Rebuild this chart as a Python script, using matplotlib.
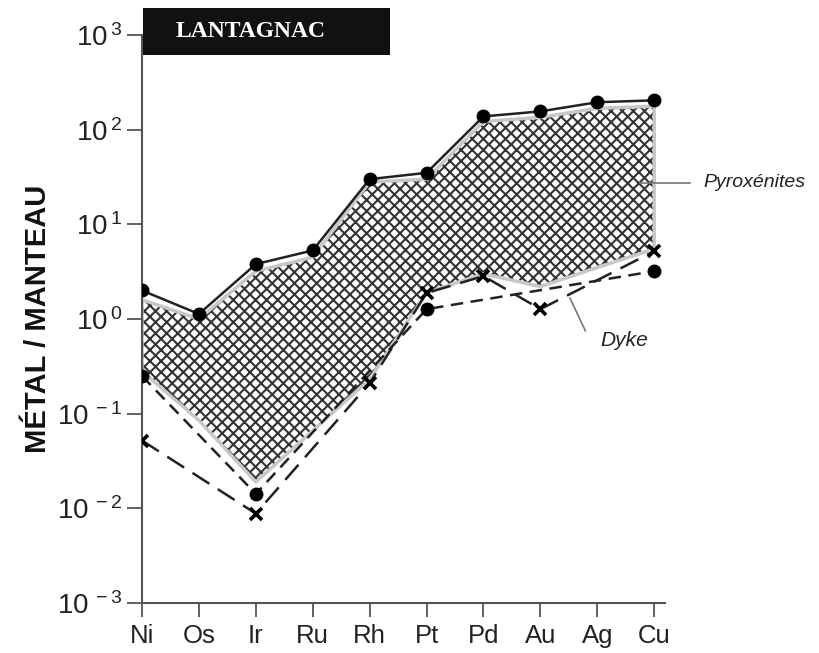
import numpy as np
import matplotlib
matplotlib.use("Agg")
import matplotlib.pyplot as plt
from matplotlib.patches import Rectangle

plt.rcParams['font.family'] = ['Liberation Sans', 'DejaVu Sans']
plt.rcParams['mathtext.fontset'] = 'custom'
plt.rcParams['mathtext.rm'] = 'Liberation Sans'
plt.rcParams['hatch.linewidth'] = 1.5

# elements on the x axis
elements = ['Ni', 'Os', 'Ir', 'Ru', 'Rh', 'Pt', 'Pd', 'Au', 'Ag', 'Cu']

# pyroxenites, upper curve (solid, dots)
pyro_top = [2.0, 1.13, 3.8, 5.3, 30.0, 35.0, 138, 156, 195, 204]

# hatched field of the pyroxenites
field_hi = [1.6, 1.0, 3.2, 4.5, 28, 30, 122, 135, 168, 177]
field_lo = [0.28, 0.085, 0.019, 0.066, 0.23, 1.9, 3.0, 2.2, 3.5, 5.5]

# lower pyroxenite (dots, dashed)
dot_el = ['Ni', 'Ir', 'Pt', 'Cu']
dot_val = [0.25, 0.0142, 1.27, 3.2]

# dyke (x, long dashes)
dyke_el = ['Ni', 'Ir', 'Rh', 'Pt', 'Pd', 'Au', 'Cu']
dyke_val = [0.052, 0.0088, 0.21, 1.88, 2.84, 1.27, 5.2]

yticks = [1e-3, 1e-2, 1e-1, 1e0, 1e1, 1e2, 1e3]
ylabels = [r'$\mathregular{10^{\,-3}}$', r'$\mathregular{10^{\,-2}}$', r'$\mathregular{10^{\,-1}}$',
           r'$\mathregular{10^{\,0}}$', r'$\mathregular{10^{\,1}}$', r'$\mathregular{10^{\,2}}$',
           r'$\mathregular{10^{\,3}}$']

fig = plt.figure(figsize=(8.19, 6.53), dpi=100)
ax = fig.add_axes([0.1734, 0.0766, 0.6386, 0.8698])

xs = np.arange(len(elements))
pos = {e: i for i, e in enumerate(elements)}

# hatch first, then a soft grey rim on top
ax.fill_between(xs, field_lo, field_hi, facecolor='white', edgecolor='#333333',
                hatch='xxx', linewidth=0, zorder=1)
ax.fill_between(xs, field_lo, field_hi, facecolor='none', edgecolor='#c8c8c8',
                linewidth=2.5, zorder=2)

ax.plot(xs, pyro_top, color='#222222', lw=1.8, marker='o', ms=9, mfc='black', mec='black', zorder=3)
ax.plot([pos[e] for e in dot_el], dot_val, color='#222222', lw=1.8, ls=(0, (5, 3)),
        marker='o', ms=9, mfc='black', mec='black', zorder=3)
ax.plot([pos[e] for e in dyke_el], dyke_val, color='#222222', lw=1.8, ls=(0, (8, 4)),
        marker='x', ms=8, mew=2.6, mec='black', zorder=3)

ax.set_yscale('log')
ax.set_ylim(1e-3, 1e3)
ax.set_xlim(0, 9.19)
ax.set_yticks(yticks)
ax.set_yticklabels(ylabels)
ax.minorticks_off()
ax.set_xticks(xs)
ax.set_xticklabels(elements)
ax.tick_params(axis='y', labelsize=20, length=11, width=1.3, color='#555555', pad=3, labelcolor='#222222')
ax.tick_params(axis='x', labelsize=18.5, length=10, width=1.3, color='#555555', pad=5, labelcolor='#222222')
for s in ['top', 'right']:
    ax.spines[s].set_visible(False)
for s in ['left', 'bottom']:
    ax.spines[s].set_color('#555555')
    ax.spines[s].set_linewidth(1.5)

ax.set_ylabel('MÉTAL / MANTEAU', fontsize=21, fontweight='bold', labelpad=4, color='#111111')

# title box
fig.patches.append(Rectangle((0.1746, 0.9158), 0.3016, 0.072, transform=fig.transFigure,
                             facecolor='#111111', edgecolor='none', zorder=5))
fig.text(0.3055, 0.951, 'LANTAGNAC', family='Liberation Serif', fontweight='bold',
         fontsize=17, color='white', ha='center', va='center', zorder=6)

# annotations
ax.plot([8.75, 9.63], [27.5, 27.5], color='#777777', lw=1.2, clip_on=False)
ax.text(9.86, 27.5, 'Pyroxénites', fontsize=14, style='italic', va='center', ha='left',
        color='#222222', clip_on=False)
ax.plot([7.52, 7.79], [1.66, 0.75], color='#777777', lw=1.2, clip_on=False)
ax.text(8.05, 0.59, 'Dyke', fontsize=15, style='italic', va='center', ha='left',
        color='#222222', clip_on=False)

fig.savefig('out.png', dpi=100)
